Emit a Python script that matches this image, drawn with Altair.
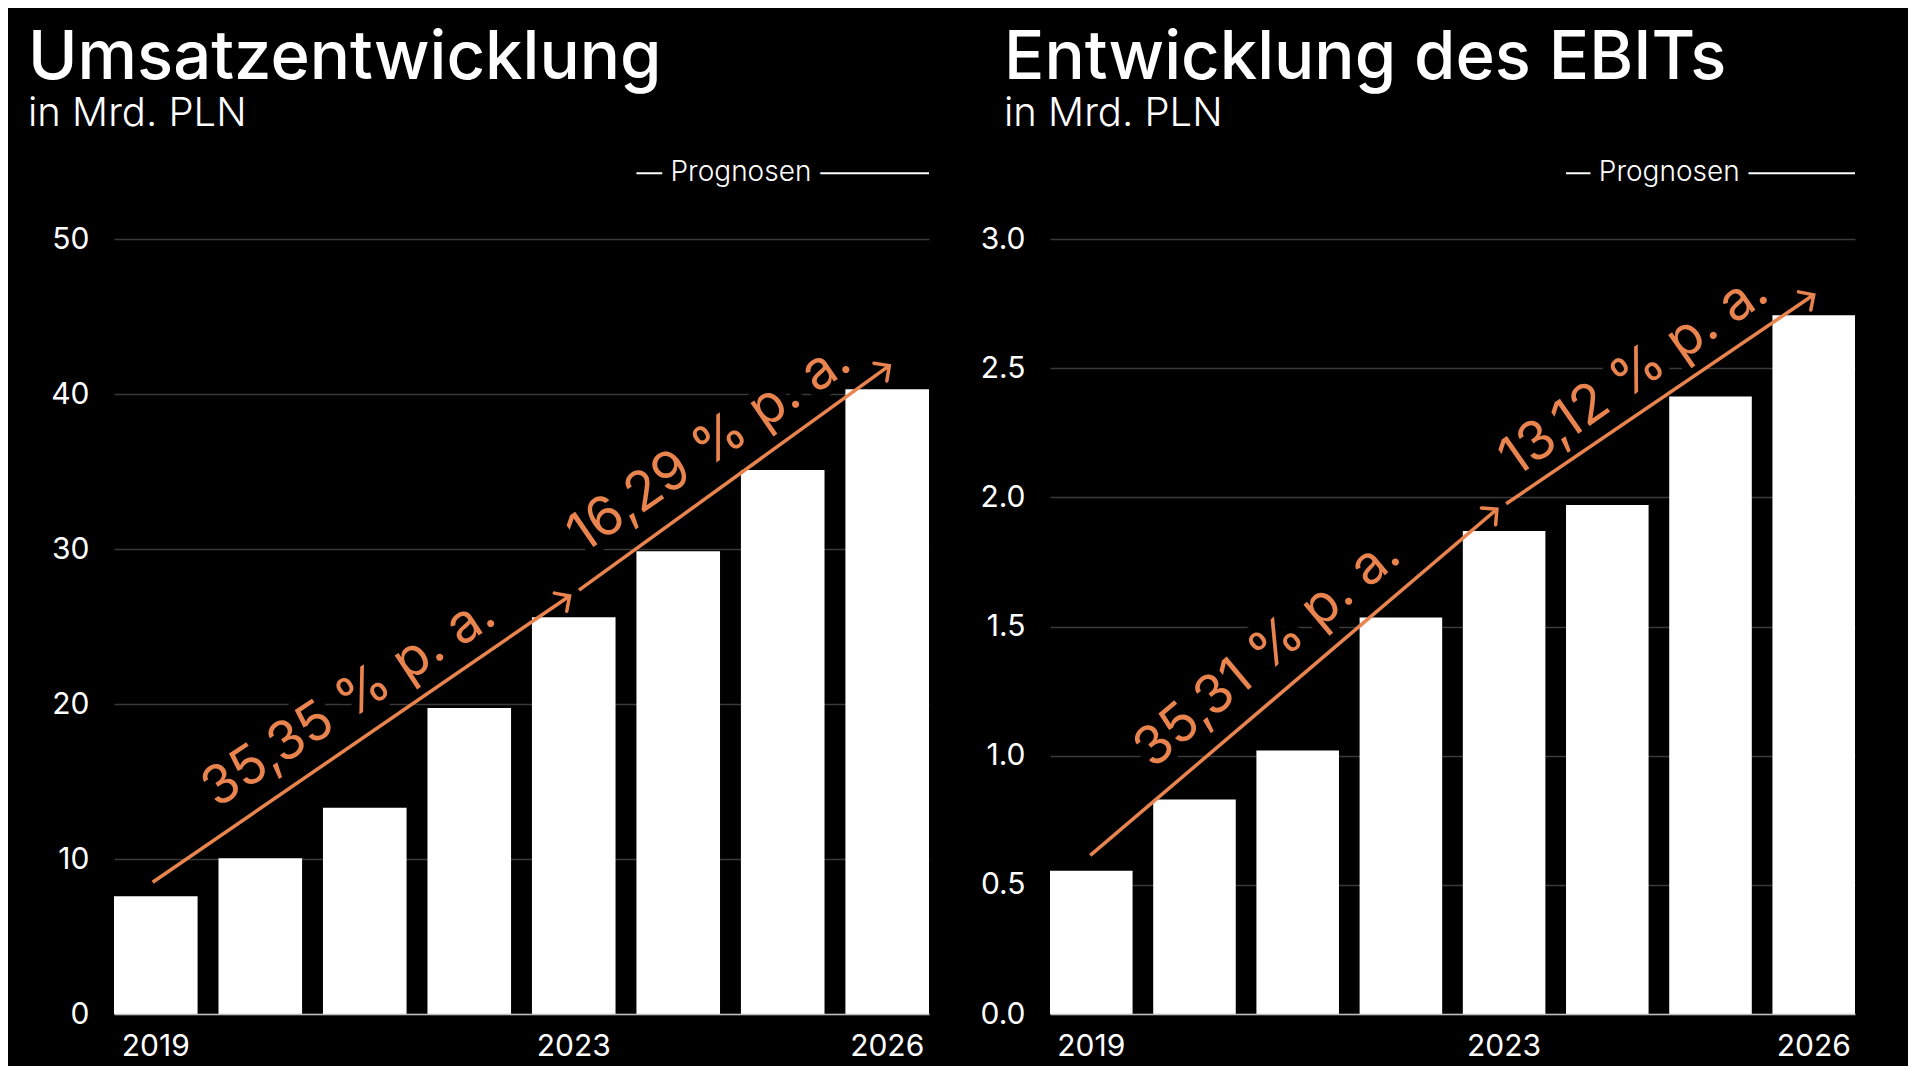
import math
import altair as alt
import pandas as pd

# ---------------- data ----------------
years = ["2019", "2020", "2021", "2022", "2023", "2024", "2025", "2026"]
umsatz = [7.6, 10.05, 13.3, 19.75, 25.6, 29.85, 35.1, 40.3]
ebit = [0.555, 0.83, 1.02, 1.535, 1.87, 1.97, 2.39, 2.705]

titles = ["Umsatzentwicklung", "Entwicklung des EBITs"]
subtitle = "in Mrd. PLN"
x_ticks = ["2019", "2023", "2026"]
y_ticks_left = [0, 10, 20, 30, 40, 50]
y_ticks_right = [0, 0.5, 1.0, 1.5, 2.0, 2.5, 3.0]

# growth arrows (x in bar-index units, 0 = 2019; y in chart units)
arrow_left_x0 = [-0.03, 4.05]
arrow_left_y0 = [8.5, 27.35]
arrow_left_x1 = [3.96, 7.02]
arrow_left_y1 = [26.97, 41.83]
arrow_right_x0 = [-0.01, 4.02]
arrow_right_y0 = [0.614, 1.975]
arrow_right_x1 = [3.93, 7.00]
arrow_right_y1 = [1.954, 2.784]

cagr_left = ["35,35 % p. a.", "16,29 % p. a."]
cagr_left_x = [1.85, 5.30]
cagr_left_y = [20.13, 36.54]
cagr_left_angle = [33.5, 34.5]
cagr_right = ["35,31 % p. a.", "13,12 % p. a."]
cagr_right_x = [1.71, 5.26]
cagr_right_y = [1.40, 2.473]
cagr_right_angle = [40.0, 35.0]

prognose_text = "Prognosen"
prognose_x = [4.6, 7.4]
prognose_text_x = 5.6
prognose_y_left = 54.24
prognose_y_right = 3.2546

# ---------------- style ----------------
FONT = "Inter"
ORANGE = "#E9844E"
WHITE = "#ffffff"
BLACK = "#000000"
H = 775


def panel(title_text, values, ymax, yticks, fmt, width,
          ax0, ay0, ax1, ay1, lab, labx, laby, labang, prog_y, title_dx):
    sx = width / 7.8
    sy = H / ymax
    yscale = alt.Scale(domain=[0, ymax], nice=False, zero=True)
    uscale = alt.Scale(domain=[-0.4, 7.4], nice=False, zero=False)
    yaxis = alt.Axis(values=yticks, format=fmt, title=None, ticks=False,
                     domain=False, grid=True, gridColor="#3a3a3a", gridWidth=1.5,
                     labelPadding=25, labelFont=FONT, labelFontSize=30,
                     labelColor=WHITE, minExtent=70)

    bars_df = pd.DataFrame({"Jahr": years, "Wert": values})
    arrows_df = pd.DataFrame({"x0": ax0, "y0": ay0, "x1": ax1, "y1": ay1})
    arrows_df["ang"] = [
        (360 - math.degrees(math.atan2((b1 - b0) * sy, (a1 - a0) * sx))) % 360
        for a0, b0, a1, b1 in zip(ax0, ay0, ax1, ay1)
    ]
    labels_df = pd.DataFrame({"t": lab, "x": labx, "y": laby,
                              "ang": [360 - a for a in labang]})
    prog_line_df = pd.DataFrame({"x0": [prognose_x[0]], "x1": [prognose_x[1]], "y": [prog_y]})
    prog_text_df = pd.DataFrame({"t": [prognose_text], "x": [prognose_text_x], "y": [prog_y]})

    def X(f):
        return alt.X(f"{f}:Q", scale=uscale, axis=None)

    def Y(f):
        return alt.Y(f"{f}:Q", scale=yscale, axis=yaxis)

    prog_rule = alt.Chart(prog_line_df).mark_rule(color=WHITE, strokeWidth=2).encode(
        x=X("x0"), x2="x1", y=Y("y"))
    prog_halo = alt.Chart(prog_text_df).mark_text(
        font=FONT, fontSize=28, fontWeight=300, color=BLACK, stroke=BLACK,
        strokeWidth=22, align="center", baseline="middle").encode(
        x=X("x"), y=Y("y"), text="t:N")
    prog_txt = alt.Chart(prog_text_df).mark_text(
        font=FONT, fontSize=28, fontWeight=300, color=WHITE,
        align="center", baseline="middle").encode(
        x=X("x"), y=Y("y"), text="t:N")

    lab_halo = alt.Chart(labels_df).mark_text(
        font=FONT, fontSize=54, fontWeight=400, color=BLACK, stroke=BLACK,
        strokeWidth=16, align="center", baseline="middle").encode(
        x=X("x"), y=Y("y"), text="t:N", angle=alt.Angle("ang:Q", scale=None))

    bars = alt.Chart(bars_df).mark_bar(color=WHITE).encode(
        x=alt.X("Jahr:O",
                scale=alt.Scale(paddingInner=0.2, paddingOuter=0),
                axis=alt.Axis(values=x_ticks, labelAngle=0, title=None, ticks=False,
                              domainColor="#bdbdbd", domainWidth=1.5, labelPadding=17,
                              labelFont=FONT, labelFontSize=30, labelColor=WHITE,
                              zindex=1)),
        y=alt.Y("Wert:Q", scale=yscale, axis=yaxis))

    arrows = alt.Chart(arrows_df).mark_rule(color=ORANGE, strokeWidth=3.5).encode(
        x=X("x0"), y=Y("y0"), x2="x1", y2="y1")
    heads = alt.Chart(arrows_df).mark_point(
        shape="M-1,-1L0,0L-1,1", filled=False, color=ORANGE, strokeWidth=3.5,
        size=480, opacity=1, strokeCap="round").encode(
        x=X("x1"), y=Y("y1"), angle=alt.Angle("ang:Q", scale=None))
    labels = alt.Chart(labels_df).mark_text(
        font=FONT, fontSize=54, fontWeight=400, color=ORANGE,
        align="center", baseline="middle").encode(
        x=X("x"), y=Y("y"), text="t:N", angle=alt.Angle("ang:Q", scale=None))

    return alt.layer(prog_rule, prog_halo, prog_txt, lab_halo, bars, arrows, heads, labels).resolve_scale(
        x="independent").properties(
        width=width, height=H,
        title=alt.TitleParams(
            text=title_text, subtitle=subtitle, anchor="start", frame="group",
            dx=title_dx, offset=24, baseline="top",
            font=FONT, fontSize=67, fontWeight=500, color=WHITE,
            subtitleFont=FONT, subtitleFontSize=40, subtitleFontWeight=300,
            subtitleColor=WHITE, subtitlePadding=1))


left = panel(titles[0], umsatz, 50, y_ticks_left, "d", 815,
             arrow_left_x0, arrow_left_y0, arrow_left_x1, arrow_left_y1,
             cagr_left, cagr_left_x, cagr_left_y, cagr_left_angle,
             prognose_y_left, -86)
right = panel(titles[1], ebit, 3.0, y_ticks_right, ".1f", 805,
              arrow_right_x0, arrow_right_y0, arrow_right_x1, arrow_right_y1,
              cagr_right, cagr_right_x, cagr_right_y, cagr_right_angle,
              prognose_y_right, -46)

chart = alt.hconcat(left, right, spacing=49).properties(
    padding={"left": 20, "top": 17, "right": 52, "bottom": 5},
    background=BLACK,
).configure_view(stroke=None)

chart.save("out.html", embed_options={"renderer": "svg", "actions": False})
